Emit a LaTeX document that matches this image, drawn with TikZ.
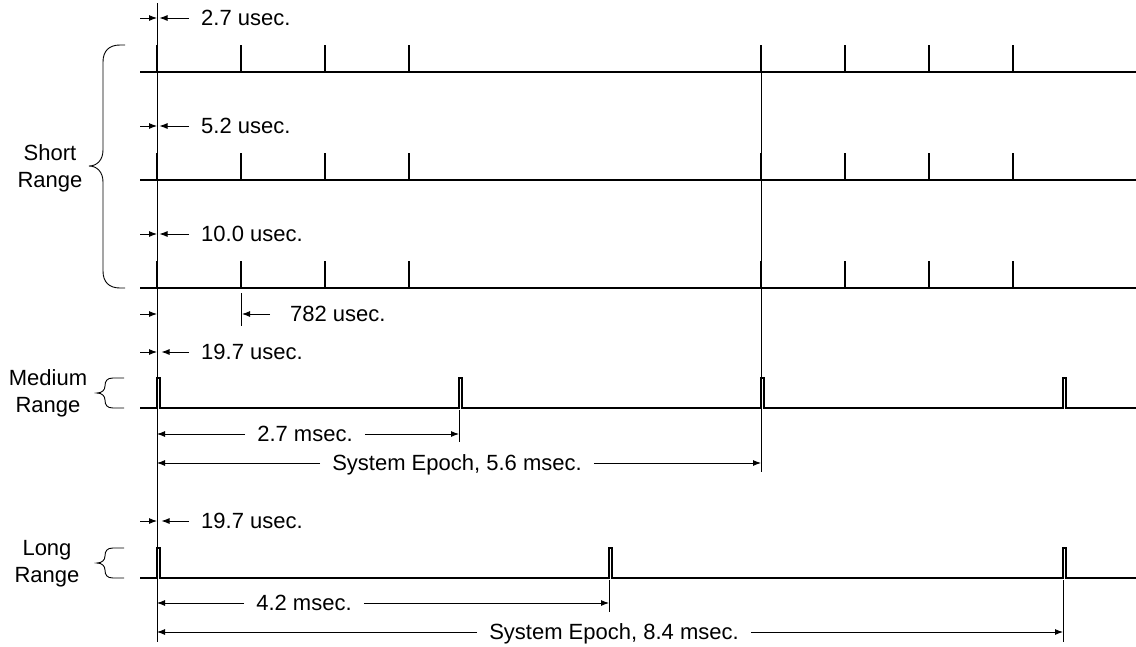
\documentclass[tikz,border=0pt]{standalone}
\usepackage{fontspec}
\setmainfont{Liberation Sans}
\usetikzlibrary{arrows.meta}
\begin{document}
\begin{tikzpicture}[x=1pt,y=-1pt,
  wave/.style={line width=1.1pt,line join=miter},
  pulse/.style={line width=1.7pt},
  guide/.style={line width=0.9pt},
  dim/.style={line width=0.9pt,-{Latex[length=8pt,width=6pt]}},
  lbl/.style={font=\fontsize{22}{24}\selectfont,inner sep=0pt,text height=15.8pt,text depth=0pt},
  brace/.style={line width=0.9pt}]
\useasboundingbox (0,0) rectangle (1136,646);

% ---------- extension lines ----------
\draw[guide] (157,3) -- (157,642);
\draw[guide] (761,45) -- (761,472);
\draw[guide] (241,293) -- (241,326);
\draw[guide] (459,410) -- (459,442);
\draw[guide] (609,580) -- (609,612);
\draw[guide] (1063,580) -- (1063,642);

% ---------- short range pulse trains ----------
\foreach \yb in {72,180,288}{
  \draw[wave] (140,\yb) -- (1136,\yb);
  \foreach \xp in {157,241,325,409,761,845,929,1013}
    \draw[pulse] (\xp,\yb) -- (\xp,\yb-27);
}

% ---------- medium range pulse train ----------
\draw[wave] (140,408) -- (157,408) -- (157,378) -- (160,378) -- (160,408)
  -- (459,408) -- (459,378) -- (462,378) -- (462,408)
  -- (761,408) -- (761,378) -- (764,378) -- (764,408)
  -- (1063,408) -- (1063,378) -- (1066,378) -- (1066,408) -- (1136,408);

% ---------- long range pulse train ----------
\draw[wave] (140,578) -- (157,578) -- (157,548) -- (160,548) -- (160,578)
  -- (609,578) -- (609,548) -- (612,548) -- (612,578)
  -- (1063,578) -- (1063,548) -- (1066,548) -- (1066,578) -- (1136,578);

% ---------- braces ----------
\draw[brace] (125,45) -- (120,45) .. controls (109,45) and (103,51) .. (103,62)
  -- (103,150) .. controls (103,160) and (97,166) .. (89,166)
  .. controls (97,166) and (103,172) .. (103,182)
  -- (103,271) .. controls (103,282) and (109,288) .. (120,288) -- (125,288);
\draw[brace] (124,378) -- (113,378) .. controls (107,378) and (105,381) .. (105,386)
  .. controls (105,390) and (102,393) .. (97,393)
  .. controls (102,393) and (105,396) .. (105,400)
  .. controls (105,405) and (107,408) .. (113,408) -- (124,408);
\draw[brace] (124,548) -- (113,548) .. controls (107,548) and (105,551) .. (105,556)
  .. controls (105,560) and (102,563) .. (97,563)
  .. controls (102,563) and (105,566) .. (105,570)
  .. controls (105,575) and (107,578) .. (113,578) -- (124,578);

% ---------- group labels ----------
\node[lbl] (sr1) at (50,153) {Short};
\node[lbl] (sr2) at (50,180) {Range};
\node[lbl] (mr1) at (48,378) {Medium};
\node[lbl] (mr2) at (48,405) {Range};
\node[lbl] (lr1) at (47,548) {Long};
\node[lbl] (lr2) at (47,575) {Range};

% ---------- pulse width dimensions ----------
\foreach \n/\yy/\tip/\txt in {pw1/18/159.5/2.7 usec., pw2/126/159.5/5.2 usec.,
    pw3/234/159.5/10.0 usec., pw4/352/161.5/19.7 usec., pw5/521/161.5/19.7 usec.}{
  \coordinate (\n a) at (140,\yy);
  \coordinate (\n b) at (157,\yy);
  \coordinate (\n c) at (\tip,\yy);
  \node[lbl,anchor=west] (\n) at (201,\yy) {\txt};
  \draw[dim] (\n a) -- (\n b);
  \draw[dim] ([xshift=-12pt]\n.west) -- (\n c);
}

% ---------- pulse spacing ----------
\coordinate (ps a) at (140,314);
\coordinate (ps b) at (157,314);
\coordinate (ps c) at (242,314);
\node[lbl,anchor=west] (ps) at (290,314) {782 usec.};
\draw[dim] (ps a) -- (ps b);
\draw[dim] ([xshift=-20pt]ps.west) -- (ps c);

% ---------- period dimensions ----------
\foreach \n/\yy/\xl/\xr/\xm/\txt in {m1/434/157/459/305/2.7 msec.,
    m2/463/157/761/457/{System Epoch, 5.6 msec.},
    l1/603/157/609/304/4.2 msec.,
    l2/632/157/1063/614/{System Epoch, 8.4 msec.}}{
  \coordinate (\n L) at (\xl,\yy);
  \coordinate (\n R) at (\xr,\yy);
  \node[lbl] (\n) at (\xm,\yy) {\txt};
  \draw[dim] ([xshift=-12pt]\n.west) -- (\n L);
  \draw[dim] ([xshift=12pt]\n.east) -- (\n R);
}
\end{tikzpicture}
\end{document}
